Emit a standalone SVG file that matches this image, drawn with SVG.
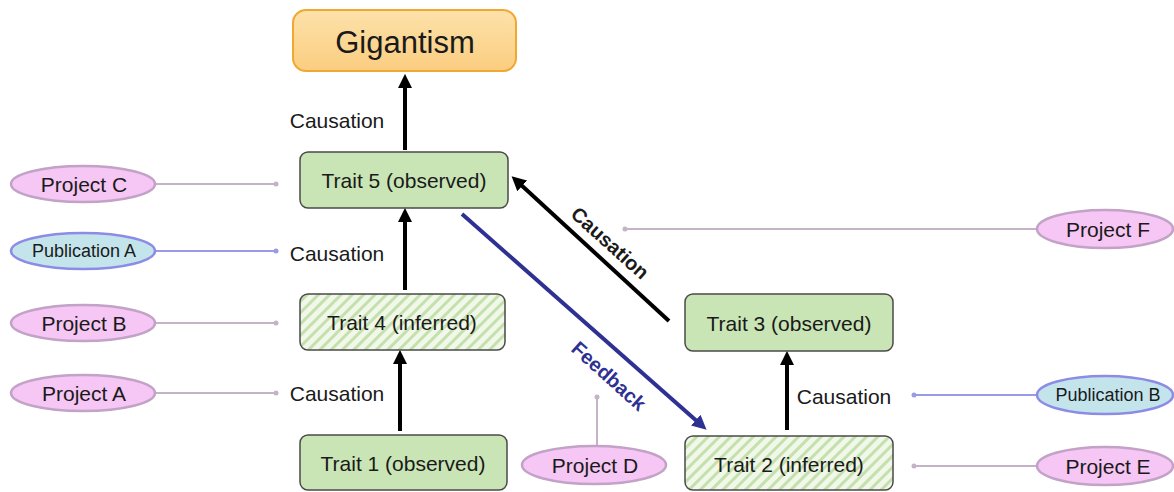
<svg xmlns="http://www.w3.org/2000/svg" width="1174" height="492" viewBox="0 0 1174 492">
<defs>
<style>
.t{font-family:"Liberation Sans",Arial,sans-serif;fill:#1a1a1a;text-anchor:middle;dominant-baseline:central}
.obs{fill:#c9e5b5;stroke:#4a4a4a;stroke-width:1.5}
.inf{fill:url(#hatch);stroke:#4a4a4a;stroke-width:1.5}
.proj{fill:#f6c6f4;stroke:#c2a2c6;stroke-width:2.5}
.pub{fill:#c4e4ec;stroke:#8c8ce6;stroke-width:2.5}
.pl{stroke:#c4b2c6;stroke-width:2;fill:none}
.bl{stroke:#9a9ae8;stroke-width:2;fill:none}
.pd{fill:#c4b2c6}
.bd{fill:#9a9ae8}
.ca{stroke:#000;stroke-width:4;fill:none;marker-end:url(#ah)}
.fb{stroke:#2e3192;stroke-width:4;fill:none;marker-end:url(#ahb)}
</style>
<pattern id="hatch" patternUnits="userSpaceOnUse" width="8" height="8" patternTransform="rotate(45)">
<rect width="8" height="8" fill="#f1f8ea"/>
<rect width="3" height="8" fill="#c4e0ad"/>
</pattern>
<linearGradient id="og" x1="0" y1="0" x2="0" y2="1">
<stop offset="0" stop-color="#fde2aa"/>
<stop offset="1" stop-color="#fbcd80"/>
</linearGradient>
<marker id="ah" markerWidth="3.6" markerHeight="3.6" refX="3" refY="5" orient="auto" markerUnits="strokeWidth" viewBox="0 0 10 10">
<path d="M0,0 L10,5 L0,10 Z" fill="#000"/>
</marker>
<marker id="ahb" markerWidth="3.6" markerHeight="3.6" refX="3" refY="5" orient="auto" markerUnits="strokeWidth" viewBox="0 0 10 10">
<path d="M0,0 L10,5 L0,10 Z" fill="#2e3192"/>
</marker>
</defs>
<g id="connectors">
<line class="ca" x1="405" y1="150" x2="405" y2="84"/>
<line class="ca" x1="405" y1="290" x2="405" y2="218"/>
<line class="ca" x1="400" y1="431" x2="400" y2="360"/>
<line class="ca" x1="787" y1="430" x2="787" y2="361"/>
<line class="ca" x1="669" y1="321" x2="519" y2="183"/>
<line class="fb" x1="462" y1="214" x2="699" y2="423"/>
<line class="pl" x1="155" y1="184" x2="276" y2="184"/><circle class="pd" cx="276" cy="184" r="2.5"/>
<line class="bl" x1="155" y1="251" x2="276" y2="251"/><circle class="bd" cx="276" cy="251" r="2.5"/>
<line class="pl" x1="155" y1="323" x2="276" y2="323"/><circle class="pd" cx="276" cy="323" r="2.5"/>
<line class="pl" x1="155" y1="393" x2="276" y2="393"/><circle class="pd" cx="276" cy="393" r="2.5"/>
<line class="pl" x1="1037" y1="229" x2="625" y2="229"/><circle class="pd" cx="625" cy="229" r="2.5"/>
<line class="bl" x1="1037" y1="395" x2="914" y2="395"/><circle class="bd" cx="914" cy="395" r="2.5"/>
<line class="pl" x1="1037" y1="466" x2="914" y2="466"/><circle class="pd" cx="914" cy="466" r="2.5"/>
<line class="pl" x1="597" y1="447" x2="597" y2="397"/><circle class="pd" cx="597" cy="397" r="2.5"/>
<text class="t" x="337" y="120" font-size="21">Causation</text>
<text class="t" x="337" y="253" font-size="21">Causation</text>
<text class="t" x="337" y="393" font-size="21">Causation</text>
<text class="t" x="844" y="396" font-size="21">Causation</text>
<text class="t" x="610" y="243" font-size="20" font-weight="bold" transform="rotate(42 610 243)">Causation</text>
<text class="t" x="609" y="376" font-size="20" font-weight="bold" style="fill:#2e3192" transform="rotate(42 609 376)">Feedback</text>
</g>
<g id="gigantism">
<rect x="293" y="10" width="223" height="61" rx="13" fill="url(#og)" stroke="#f0a830" stroke-width="2"/>
<text class="t" x="405" y="42" font-size="31">Gigantism</text>
</g>
<g id="trait5"><rect class="obs" x="300" y="152" width="208" height="56" rx="8"/><text class="t" x="404" y="180" font-size="21">Trait 5 (observed)</text></g>
<g id="trait4"><rect class="inf" x="300" y="294" width="205" height="56" rx="8"/><text class="t" x="402" y="322" font-size="21">Trait 4 (inferred)</text></g>
<g id="trait1"><rect class="obs" x="300" y="435" width="207" height="55" rx="8"/><text class="t" x="403" y="463" font-size="21">Trait 1 (observed)</text></g>
<g id="trait3"><rect class="obs" x="685" y="294" width="208" height="57" rx="8"/><text class="t" x="789" y="323" font-size="21">Trait 3 (observed)</text></g>
<g id="trait2"><rect class="inf" x="685" y="436" width="208" height="54" rx="8"/><text class="t" x="789" y="464" font-size="21">Trait 2 (inferred)</text></g>
<g id="projectC"><ellipse class="proj" cx="83" cy="184" rx="72" ry="18"/><text class="t" x="84" y="184" font-size="21">Project C</text></g>
<g id="publicationA"><ellipse class="pub" cx="83" cy="251" rx="72" ry="18"/><text class="t" x="84" y="251" font-size="18">Publication A</text></g>
<g id="projectB"><ellipse class="proj" cx="83" cy="323" rx="72" ry="18"/><text class="t" x="84" y="323" font-size="21">Project  B</text></g>
<g id="projectA"><ellipse class="proj" cx="83" cy="393" rx="72" ry="18"/><text class="t" x="84" y="393" font-size="21">Project  A</text></g>
<g id="projectD"><ellipse class="proj" cx="594" cy="465" rx="72" ry="19"/><text class="t" x="595" y="465" font-size="21">Project  D</text></g>
<g id="projectF"><ellipse class="proj" cx="1105" cy="229" rx="68" ry="19"/><text class="t" x="1108" y="229" font-size="21">Project  F</text></g>
<g id="publicationB"><ellipse class="pub" cx="1105" cy="395" rx="68" ry="19"/><text class="t" x="1108" y="395" font-size="18">Publication B</text></g>
<g id="projectE"><ellipse class="proj" cx="1105" cy="466" rx="68" ry="19"/><text class="t" x="1108" y="466" font-size="21">Project  E</text></g>
</svg>
